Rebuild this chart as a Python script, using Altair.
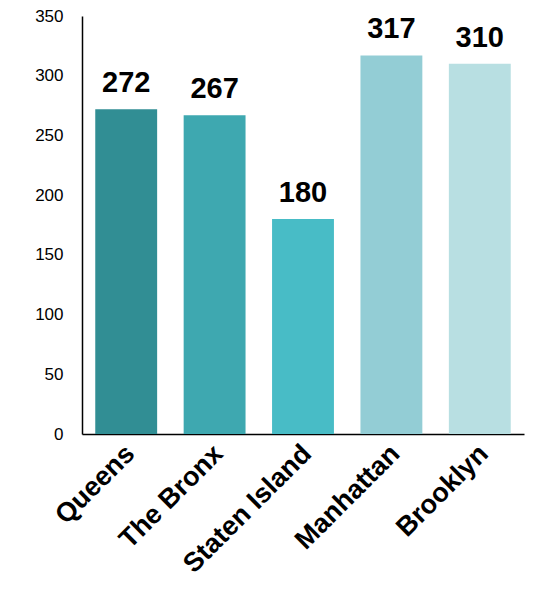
import altair as alt
import pandas as pd

boroughs = ["Queens", "The Bronx", "Staten Island", "Manhattan", "Brooklyn"]
values = [272, 267, 180, 317, 310]
colors = ["#318E94", "#3EA8B0", "#48BCC6", "#93CDD5", "#B8DFE2"]

df = pd.DataFrame({"borough": boroughs, "value": values})

x = alt.X("borough:N", sort=boroughs,
          scale=alt.Scale(paddingInner=0.3, paddingOuter=0.15),
          axis=alt.Axis(title=None, labelAngle=-45, labelAlign="right", labelBaseline="top",
                        labelFontSize=27, labelFontWeight="bold", labelColor="black",
                        labelFont="Liberation Sans", ticks=False, labelPadding=6, labelOffset=-5,
                        labelLimit=400,
                        domainColor="black", domainWidth=1.5, labelOverlap=False))
y = alt.Y("value:Q", scale=alt.Scale(domain=[0, 350], nice=False),
          axis=alt.Axis(title=None, values=[0, 50, 100, 150, 200, 250, 300, 350], grid=False,
                        ticks=False, labelFontSize=17, labelFont="Liberation Sans",
                        labelColor="black", labelPadding=19, domainColor="black", domainWidth=1.5))

bars = alt.Chart(df).mark_bar().encode(
    x=x, y=y,
    color=alt.Color("borough:N", sort=boroughs,
                    scale=alt.Scale(domain=boroughs, range=colors), legend=None)
)
text = alt.Chart(df).mark_text(dy=-11, baseline="bottom", fontSize=29, fontWeight="bold",
                               font="Liberation Sans", color="black").encode(
    x=alt.X("borough:N", sort=boroughs), y="value:Q", text="value:Q")

chart = (bars + text).properties(
    width=442, height=418,
    background="white",
    autosize=alt.AutoSizeParams(type="none"),
    padding={"left": 74, "top": 8, "right": 10, "bottom": 150}
).configure_view(stroke=None, strokeWidth=0)

chart.save("out.html", embed_options={"renderer": "svg", "actions": False})
